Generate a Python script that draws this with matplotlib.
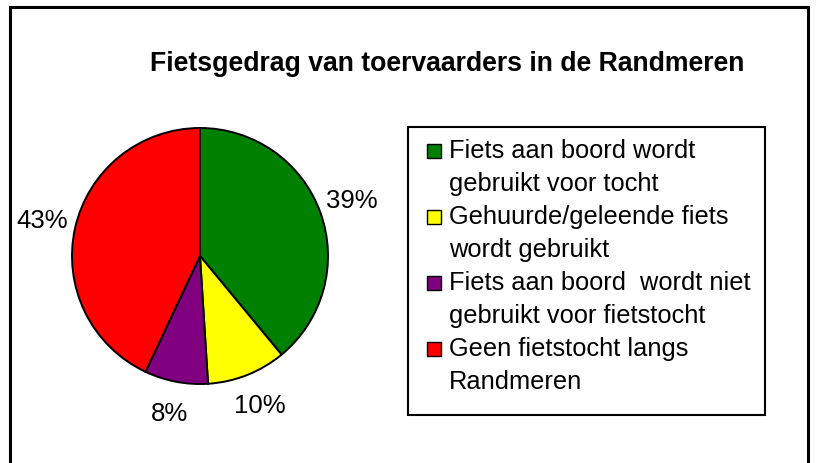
import matplotlib.pyplot as plt
from matplotlib.patches import Rectangle
from matplotlib.legend_handler import HandlerPatch

plt.rcParams['font.family'] = ['Liberation Sans', 'DejaVu Sans']

# data
labels = [
    "Fiets aan boord wordt\ngebruikt voor tocht",
    "Gehuurde/geleende fiets\nwordt gebruikt",
    "Fiets aan boord  wordt niet\ngebruikt voor fietstocht",
    "Geen fietstocht langs\nRandmeren",
]
shares = [39, 10, 8, 43]
colors = ["#008000", "#FFFF00", "#800080", "#FF0000"]
title = "Fietsgedrag van toervaarders in de Randmeren"

W, H = 816, 463
fig = plt.figure(figsize=(W / 100, H / 100), dpi=100)

# outer chart border
fig.patches.append(Rectangle((10 / W, -0.05), 798 / W, 1.05 - 7 / H,
                             transform=fig.transFigure, fill=False,
                             edgecolor="black", linewidth=2.2))

# pie axes: centre (200, 256), radius 128 px
cx, cy, r = 200, 256, 128
ax = fig.add_axes([(cx - r) / W, (H - cy - r) / H, 2 * r / W, 2 * r / H])
wedges, _, autotexts = ax.pie(
    shares, colors=colors, startangle=90, counterclock=False,
    autopct="%1.0f%%", pctdistance=1.26, radius=1,
    wedgeprops=dict(edgecolor="black", linewidth=1.4),
    textprops=dict(fontsize=18.5, color="black"),
)
ax.set_xlim(-1, 1)
ax.set_ylim(-1, 1)
ax.set_aspect("auto")
ax.axis("off")

fig.text(447 / W, 1 - 64 / H, title, ha="center", va="center",
         fontsize=19.2, fontweight="bold")


# square marker next to the first line of each (two-line) legend entry
def square_top(legend, orig_handle, xdescent, ydescent, width, height, fontsize):
    s = 10.0
    return Rectangle((width - s, height / 2 - s / 2 + 12), s, s)


# legend box (drawn separately so it keeps the original size)
lx0, ly0, lx1, ly1 = 408, 127, 765, 415
fig.patches.append(Rectangle((lx0 / W, 1 - ly1 / H), (lx1 - lx0) / W, (ly1 - ly0) / H,
                             transform=fig.transFigure, fill=False,
                             edgecolor="black", linewidth=1.5))

leg = fig.legend(wedges, labels, loc="upper left",
                 bbox_to_anchor=((lx0 - 2.5) / W, 1 - (ly0 - 0.5) / H), borderaxespad=0,
                 fontsize=18.3, frameon=False,
                 handlelength=0.9, handleheight=0.7, handletextpad=0.3,
                 labelspacing=0.38, borderpad=0.5,
                 handler_map={w: HandlerPatch(patch_func=square_top) for w in wedges})
for t in leg.get_texts():
    t.set_linespacing(1.44)
for h in leg.legend_handles:
    h.set_linewidth(1.0)

fig.savefig("out.png", dpi=100)
